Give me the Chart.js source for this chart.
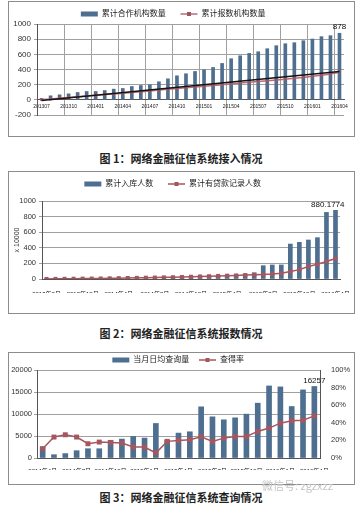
<!DOCTYPE html>
<html>
<head>
<meta charset="utf-8">
<script src="https://cdn.jsdelivr.net/npm/chart.js@4.4.0/dist/chart.umd.min.js"></script>
<style>
body { margin: 0; background: #fff; width: 362px; height: 507px; position: relative; overflow: hidden; font-family: "Noto Sans CJK SC", sans-serif; }
.box { position: absolute; left: 8px; width: 347px; border: 1px solid #8c8c8c; box-sizing: border-box; background: #fff; }
.cap { position: absolute; left: 0; width: 362px; text-align: center; font-weight: bold; font-size: 11px; line-height: 14px; color: #222; }
.mark { position: absolute; left: 262px; top: 477px; font-size: 11px; color: #c4c4c4; }
</style>
</head>
<body>
<div class="box" style="top:1px;height:136px"><canvas id="c1"></canvas></div>
<div class="cap" style="top:151px">图 1：网络金融征信系统接入情况</div>
<div class="box" style="top:171px;height:143px"><canvas id="c2"></canvas></div>
<div class="cap" style="top:326px">图 2：网络金融征信系统报数情况</div>
<div class="box" style="top:352px;height:133px"><canvas id="c3"></canvas></div>
<div class="cap" style="top:490px">图 3：网络金融征信系统查询情况</div>
<div class="mark">微信号: zgzxzz</div>
<script>
// chart 1: 接入情况
let months1 = ['201307','201308','201309','201310','201311','201312','201401','201402','201403','201404','201405','201406',
  '201407','201408','201409','201410','201411','201412','201501','201502','201503','201504','201505','201506',
  '201507','201508','201509','201510','201511','201512','201601','201602','201603','201604'];
let coopOrgs = [15, 53, 66, 79, 97, 110, 110, 123, 141, 150, 176, 189, 198, 238, 277, 317, 344, 374,
  396, 427, 480, 542, 581, 612, 634, 674, 714, 740, 753, 780, 802, 833, 846, 878];
let reportOrgs = [5, 12, 22, 30, 40, 50, 60, 70, 78, 88, 98, 108, 118, 128, 140, 150, 160, 170,
  180, 190, 200, 212, 222, 232, 242, 252, 262, 272, 284, 296, 310, 324, 340, 365];
let trendMonths = ['201307', '201604'];
let trendVals = [-10, 375];

// chart 2: 报数情况 (x 10000)
let months2 = ['2013年8月','2013年9月','2013年10月','2013年11月','2013年12月','2014年1月','2014年2月','2014年3月',
  '2014年4月','2014年5月','2014年6月','2014年7月','2014年8月','2014年9月','2014年10月','2014年11月',
  '2014年12月','2015年1月','2015年2月','2015年3月','2015年4月','2015年5月','2015年6月','2015年7月',
  '2015年8月','2015年9月','2015年10月','2015年11月','2015年12月','2016年1月','2016年2月','2016年3月','2016年4月'];
let inStock = [3, 4, 5, 6, 7, 8, 9, 10, 12, 14, 17, 20, 23, 26, 30, 33, 36, 40, 44, 48, 52, 58, 65, 80,
  171, 180, 180, 448, 470, 500, 530, 854, 880.1774];
let loanRecords = [1, 2, 3, 4, 5, 6, 7, 9, 11, 13, 15, 17, 19, 21, 23, 26, 29, 33, 36, 40, 43, 46, 50, 54,
  58, 64, 75, 95, 120, 160, 190, 225, 262];

// chart 3: 查询情况
let months3 = ['2014年4月','2014年5月','2014年6月','2014年7月','2014年8月','2014年9月','2014年10月','2014年11月',
  '2014年12月','2015年1月','2015年2月','2015年3月','2015年4月','2015年5月','2015年6月','2015年7月',
  '2015年8月','2015年9月','2015年10月','2015年11月','2015年12月','2016年1月','2016年2月','2016年3月','2016年4月'];
let dailyQueries = [2500, 750, 1000, 1660, 2110, 2110, 4000, 4300, 4900, 4530, 7850, 4080, 5660, 5960,
  11630, 9360, 8680, 9130, 9970, 12460, 16380, 16160, 11700, 15480, 16257];
let hitRate = [10.6, 23.8, 26.4, 23.8, 16.2, 18.1, 17.7, 17.0, 12.5, 12.5, 5.7, 18.9, 20.0, 20.8,
  24.2, 18.9, 22.6, 24.5, 24.5, 30.2, 34.0, 39.6, 42.3, 43.0, 47.9];

Chart.defaults.font.family = "'Liberation Sans', 'Noto Sans CJK SC', sans-serif";
Chart.defaults.color = '#333';
Chart.defaults.animation = false;

const barBlue = '#4E6F8F';
const lineRed = '#A6565F';
const gridGray = '#a0a0a0';

// value above the last bar
const topLabel = {
  id: 'topLabel',
  afterDatasetsDraw(chart, args, opts) {
    if (!opts.text) return;
    const meta = chart.getDatasetMeta(0);
    const bar = meta.data[meta.data.length - 1];
    const c = chart.ctx;
    c.save();
    c.font = '8px "Liberation Sans"';
    c.fillStyle = '#111';
    c.textAlign = opts.align || 'center';
    c.textBaseline = 'bottom';
    c.fillText(opts.text, bar.x + (opts.dx || 0), bar.y - 2);
    c.restore();
  }
};

// fixed legend height so the plot starts where the original does
const legendFit = {
  id: 'legendFit',
  beforeInit(chart) {
    const fit = chart.legend.fit;
    chart.legend.fit = function () {
      fit.call(this);
      this.height = chart.config.options.plugins.legendFit.h;
    };
  }
};

// square marker on the line legend item
const legendMarks = {
  id: 'legendMarks',
  afterDraw(chart) {
    const lg = chart.legend;
    lg.legendItems.forEach((it, i) => {
      const ds = chart.data.datasets[it.datasetIndex];
      if (ds.type !== 'line') return;
      const hb = lg.legendHitBoxes[i];
      const cx = hb.left + 8.5, cy = hb.top + 4;
      const c = chart.ctx;
      c.save();
      c.fillStyle = ds.backgroundColor;
      c.fillRect(cx - 2, cy - 2, 4, 4);
      c.restore();
    });
  }
};

Chart.register(topLabel, legendFit, legendMarks);

function legend(pad) {
  return {
    position: 'top',
    labels: {
      usePointStyle: true,
      pointStyleWidth: 17,
      boxHeight: 5,
      padding: pad,
      color: '#222',
      font: { size: 8 },
      filter: it => it.datasetIndex < 2,
      sort: (a, b) => a.datasetIndex - b.datasetIndex,
      generateLabels(chart) {
        const items = Chart.defaults.plugins.legend.labels.generateLabels(chart);
        items.forEach(it => {
          const ds = chart.data.datasets[it.datasetIndex];
          if (ds.type === 'line') {
            it.pointStyle = 'line';
            it.strokeStyle = ds.borderColor;
            it.lineWidth = 1.5;
          } else {
            it.pointStyle = 'rect';
          }
          it.text = it.text + '   ';
        });
        return items;
      }
    }
  };
}

const plain = v => String(v);

new Chart(document.getElementById('c1'), {
  type: 'bar',
  data: {
    labels: months1,
    datasets: [
      { type: 'bar', label: '累计合作机构数量', data: coopOrgs, backgroundColor: barBlue, barThickness: 3, order: 3 },
      { type: 'line', label: '累计报数机构数量', data: reportOrgs, borderColor: '#B0707A', backgroundColor: '#9E5560',
        borderWidth: 1.5, pointStyle: 'rect', pointRadius: 2, pointBorderWidth: 0, order: 2 },
      { type: 'line', label: 'trend', data: trendMonths.map((m, i) => ({ x: m, y: trendVals[i] })),
        borderColor: '#141414', borderWidth: 1.5, pointRadius: 0, order: 1 }
    ]
  },
  options: {
    responsive: true,
    maintainAspectRatio: false,
    layout: { padding: { right: 10, bottom: 21 } },
    plugins: {
      legend: legend(8),
      legendFit: { h: 22 },
      tooltip: { enabled: false },
      topLabel: { text: String(coopOrgs[coopOrgs.length - 1]) }
    },
    scales: {
      x: {
        position: { y: 0 },
        grid: {
          color: ctx => (ctx.index % 3 === 0 || ctx.index === months1.length) ? gridGray : 'rgba(0,0,0,0)',
          drawTicks: false
        },
        border: { color: '#555' },
        ticks: {
          autoSkip: false, maxRotation: 0, minRotation: 0, padding: 4,
          font: { size: 5 }, color: '#222',
          callback: function (v, i) { return i % 3 === 0 ? this.getLabelForValue(v) : ''; }
        }
      },
      y: {
        min: -200, max: 1000,
        afterFit: s => { s.width = 28; },
        grid: { color: gridGray, tickLength: 3 },
        border: { color: '#555' },
        ticks: { stepSize: 200, padding: 3, font: { size: 8 }, color: '#333', callback: plain }
      }
    }
  }
});

new Chart(document.getElementById('c2'), {
  type: 'bar',
  data: {
    labels: months2,
    datasets: [
      { type: 'bar', label: '累计入库人数', data: inStock, backgroundColor: barBlue, barThickness: 4, order: 2 },
      { type: 'line', label: '累计有贷款记录人数', data: loanRecords, borderColor: lineRed, backgroundColor: lineRed,
        borderWidth: 1.5, pointStyle: 'rect', pointRadius: 2.8, pointBorderWidth: 0, order: 1 }
    ]
  },
  options: {
    responsive: true,
    maintainAspectRatio: false,
    layout: { padding: { right: 11, bottom: 20 } },
    plugins: {
      legend: legend(8),
      legendFit: { h: 29 },
      tooltip: { enabled: false },
      topLabel: { text: String(inStock[inStock.length - 1]), align: 'right', dx: 9 }
    },
    scales: {
      x: {
        afterFit: s => { s.height = 14; },
        grid: { display: false },
        border: { color: '#555' },
        ticks: {
          autoSkip: false, maxRotation: 0, minRotation: 0, padding: 4,
          font: { size: 6 }, color: '#111',
          callback: function (v, i) { return i % 4 === 0 ? this.getLabelForValue(v) : ''; }
        }
      },
      y: {
        min: 0, max: 1000,
        afterFit: s => { s.width = 33; },
        title: { display: true, text: 'x 10000', font: { size: 7 }, color: '#333', padding: { top: 4, bottom: 0 } },
        grid: { color: gridGray, tickLength: 3 },
        border: { color: '#555' },
        ticks: { stepSize: 200, padding: 3, font: { size: 7.5 }, color: '#333', callback: plain }
      }
    }
  }
});

new Chart(document.getElementById('c3'), {
  type: 'bar',
  data: {
    labels: months3,
    datasets: [
      { type: 'bar', label: '当月日均查询量', data: dailyQueries, backgroundColor: barBlue, barThickness: 5,
        yAxisID: 'y', order: 2 },
      { type: 'line', label: '查得率', data: hitRate, borderColor: lineRed, backgroundColor: lineRed,
        borderWidth: 1.5, pointStyle: 'rect', pointRadius: 3.5, pointBorderWidth: 0, yAxisID: 'y1', order: 1 }
    ]
  },
  options: {
    responsive: true,
    maintainAspectRatio: false,
    layout: { padding: { bottom: 14 } },
    plugins: {
      legend: legend(3),
      legendFit: { h: 17 },
      tooltip: { enabled: false },
      topLabel: { text: String(dailyQueries[dailyQueries.length - 1]) }
    },
    scales: {
      x: {
        afterFit: s => { s.height = 12; },
        grid: { display: false },
        border: { color: '#555' },
        ticks: {
          autoSkip: false, maxRotation: 0, minRotation: 0, padding: 2,
          font: { size: 6 }, color: '#111',
          callback: function (v, i) { return i % 3 === 0 ? this.getLabelForValue(v) : ''; }
        }
      },
      y: {
        position: 'left',
        min: 0, max: 20000,
        afterFit: s => { s.width = 28; },
        grid: { color: gridGray, tickLength: 3 },
        border: { color: '#555' },
        ticks: { stepSize: 5000, padding: 2, font: { size: 7.5 }, color: '#333', callback: plain }
      },
      y1: {
        position: 'right',
        min: 0, max: 100,
        afterFit: s => { s.width = 34; },
        grid: { display: false },
        border: { color: '#555' },
        ticks: { stepSize: 20, padding: 3, font: { size: 7.5 }, color: '#333', callback: v => v + '%' }
      }
    }
  }
});
</script>
</body>
</html>
